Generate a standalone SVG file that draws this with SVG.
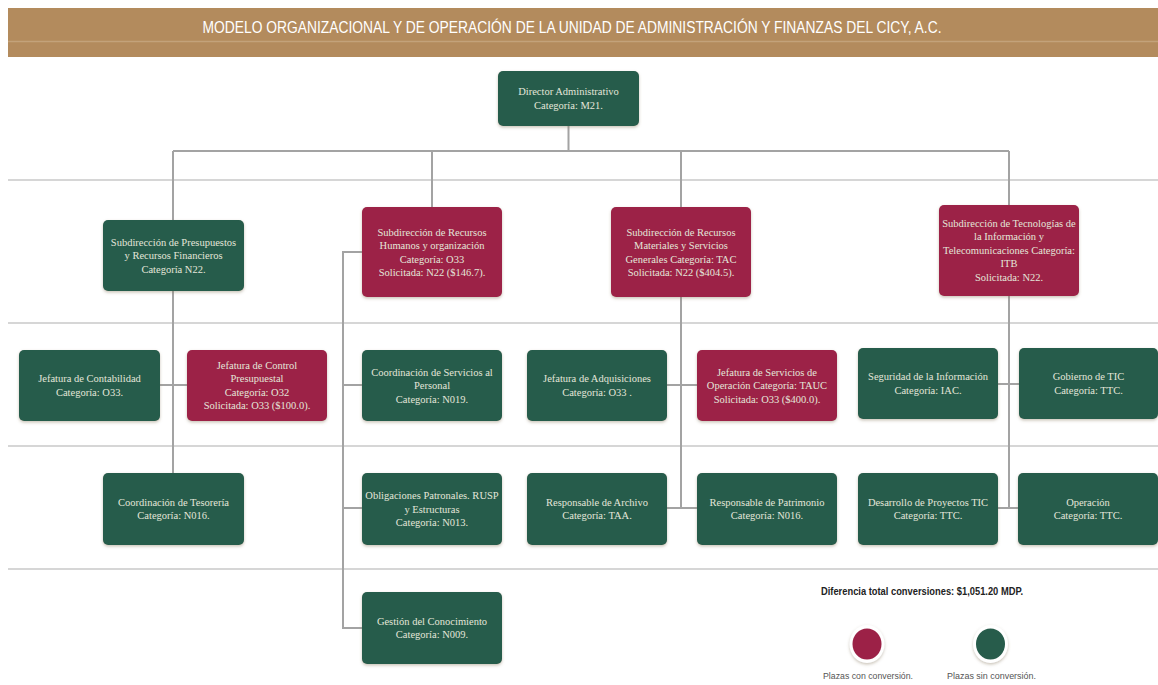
<svg xmlns="http://www.w3.org/2000/svg" width="1158" height="685" viewBox="0 0 1158 685">
<defs>
<filter id="sh" x="-10%" y="-10%" width="120%" height="130%">
<feDropShadow dx="0" dy="1.5" stdDeviation="1.5" flood-color="#8a7a60" flood-opacity="0.45"/>
</filter>
<style>
.g{fill:#275c4b;filter:url(#sh)}
.m{fill:#9c2147;filter:url(#sh)}
.t{font-family:"Liberation Serif","DejaVu Serif",serif;font-size:10.5px;fill:#e4e6da;text-anchor:middle}
.sep{stroke:#c9c9c9;stroke-width:1.5;fill:none}
.con{stroke:#a3a3a3;stroke-width:2;fill:none}
.lg{font-family:"Liberation Sans",Arial,sans-serif;font-size:9px;fill:#555;text-anchor:middle}
</style>
</defs>
<rect width="1158" height="685" fill="#ffffff"/>
<g id="header">
<rect x="8" y="8" width="1150" height="49" fill="#b38b5d"/>
<line x1="8" y1="41.5" x2="1158" y2="41.5" stroke="#c3a27a" stroke-width="1.5"/>
<text x="572" y="32.5" font-family="Liberation Sans,Arial,sans-serif" font-size="16.5" fill="#ffffff" text-anchor="middle" textLength="739" lengthAdjust="spacingAndGlyphs">MODELO ORGANIZACIONAL Y DE OPERACIÓN DE LA UNIDAD DE ADMINISTRACIÓN Y FINANZAS DEL CICY, A.C.</text>
</g>
<g id="separators">
<line class="sep" x1="8" y1="180" x2="1158" y2="180"/>
<line class="sep" x1="8" y1="323" x2="1158" y2="323"/>
<line class="sep" x1="8" y1="446" x2="1158" y2="446"/>
<line class="sep" x1="8" y1="569" x2="1158" y2="569"/>
</g>
<g id="connectors">
<path class="con" d="M568.5 126 V151 M173 151 H1009 M173 151 V220 M432 151 V207 M681 151 V207 M1009 151 V205"/>
<path class="con" d="M173 291 V473 M160 385 H187"/>
<path class="con" d="M362 252 H343 V628 H362 M343 385 H362 M343 508 H362"/>
<path class="con" d="M681 297 V508 M667 385 H697 M667 508 H697"/>
<path class="con" d="M1009 296 V508 M998 384 H1019 M998 508 H1018"/>
</g>
<g id="n-director"><rect class="g" x="498" y="71" width="141" height="55" rx="5"/>
<text class="t" x="568.5" y="95"><tspan x="568.5">Director Administrativo</tspan><tspan x="568.5" dy="13.5">Categoría: M21.</tspan></text></g>
<g id="n-presupuestos"><rect class="g" x="103" y="220" width="141" height="71" rx="5"/>
<text class="t" x="173.5" y="245.5"><tspan x="173.5">Subdirección de Presupuestos</tspan><tspan x="173.5" dy="13.5">y Recursos Financieros</tspan><tspan x="173.5" dy="13.5">Categoría N22.</tspan></text></g>
<g id="n-rh"><rect class="m" x="362" y="207" width="140" height="90" rx="5"/>
<text class="t" x="432" y="235.5"><tspan x="432">Subdirección de Recursos</tspan><tspan x="432" dy="13.5">Humanos y organización</tspan><tspan x="432" dy="13.5">Categoría: O33</tspan><tspan x="432" dy="13.5">Solicitada: N22 ($146.7).</tspan></text></g>
<g id="n-materiales"><rect class="m" x="611" y="207" width="140" height="90" rx="5"/>
<text class="t" x="681" y="235.5"><tspan x="681">Subdirección de Recursos</tspan><tspan x="681" dy="13.5">Materiales y Servicios</tspan><tspan x="681" dy="13.5">Generales Categoría: TAC</tspan><tspan x="681" dy="13.5">Solicitada: N22 ($404.5).</tspan></text></g>
<g id="n-tic"><rect class="m" x="939" y="205" width="140" height="91" rx="5"/>
<text class="t" x="1009" y="226.5"><tspan x="1009">Subdirección de Tecnologías de</tspan><tspan x="1009" dy="13.5">la Información y</tspan><tspan x="1009" dy="13.5">Telecomunicaciones Categoría:</tspan><tspan x="1009" dy="13.5">ITB</tspan><tspan x="1009" dy="13.5">Solicitada: N22.</tspan></text></g>
<g id="n-contabilidad"><rect class="g" x="19" y="350" width="141" height="71" rx="5"/>
<text class="t" x="89.5" y="382"><tspan x="89.5">Jefatura de Contabilidad</tspan><tspan x="89.5" dy="13.5">Categoría: O33.</tspan></text></g>
<g id="n-control"><rect class="m" x="187" y="350" width="140" height="71" rx="5"/>
<text class="t" x="257" y="368.5"><tspan x="257">Jefatura de Control</tspan><tspan x="257" dy="13.5">Presupuestal</tspan><tspan x="257" dy="13.5">Categoría: O32</tspan><tspan x="257" dy="13.5">Solicitada: O33 ($100.0).</tspan></text></g>
<g id="n-servicios-personal"><rect class="g" x="362" y="350" width="140" height="71" rx="5"/>
<text class="t" x="432" y="375.5"><tspan x="432">Coordinación de Servicios al</tspan><tspan x="432" dy="13.5">Personal</tspan><tspan x="432" dy="13.5">Categoría: N019.</tspan></text></g>
<g id="n-adquisiciones"><rect class="g" x="527" y="350" width="140" height="71" rx="5"/>
<text class="t" x="597" y="382"><tspan x="597">Jefatura de Adquisiciones</tspan><tspan x="597" dy="13.5">Categoría: O33 .</tspan></text></g>
<g id="n-servicios-operacion"><rect class="m" x="697" y="350" width="140" height="71" rx="5"/>
<text class="t" x="767" y="375.5"><tspan x="767">Jefatura de Servicios de</tspan><tspan x="767" dy="13.5">Operación Categoría: TAUC</tspan><tspan x="767" dy="13.5">Solicitada: O33 ($400.0).</tspan></text></g>
<g id="n-seguridad"><rect class="g" x="858" y="348" width="140" height="71" rx="5"/>
<text class="t" x="928" y="380"><tspan x="928">Seguridad de la Información</tspan><tspan x="928" dy="13.5">Categoría: IAC.</tspan></text></g>
<g id="n-gobierno"><rect class="g" x="1019" y="348" width="139" height="71" rx="5"/>
<text class="t" x="1088.5" y="380"><tspan x="1088.5">Gobierno de TIC</tspan><tspan x="1088.5" dy="13.5">Categoría: TTC.</tspan></text></g>
<g id="n-tesoreria"><rect class="g" x="103" y="473" width="141" height="72" rx="5"/>
<text class="t" x="173.5" y="505.5"><tspan x="173.5">Coordinación de Tesorería</tspan><tspan x="173.5" dy="13.5">Categoría: N016.</tspan></text></g>
<g id="n-obligaciones"><rect class="g" x="362" y="473" width="140" height="72" rx="5"/>
<text class="t" x="432" y="499"><tspan x="432">Obligaciones Patronales. RUSP</tspan><tspan x="432" dy="13.5">y Estructuras</tspan><tspan x="432" dy="13.5">Categoría: N013.</tspan></text></g>
<g id="n-archivo"><rect class="g" x="527" y="473" width="140" height="72" rx="5"/>
<text class="t" x="597" y="505.5"><tspan x="597">Responsable de Archivo</tspan><tspan x="597" dy="13.5">Categoría: TAA.</tspan></text></g>
<g id="n-patrimonio"><rect class="g" x="697" y="473" width="140" height="72" rx="5"/>
<text class="t" x="767" y="505.5"><tspan x="767">Responsable de Patrimonio</tspan><tspan x="767" dy="13.5">Categoría: N016.</tspan></text></g>
<g id="n-desarrollo"><rect class="g" x="858" y="473" width="140" height="72" rx="5"/>
<text class="t" x="928" y="505.5"><tspan x="928">Desarrollo de Proyectos TIC</tspan><tspan x="928" dy="13.5">Categoría: TTC.</tspan></text></g>
<g id="n-operacion"><rect class="g" x="1018" y="473" width="140" height="72" rx="5"/>
<text class="t" x="1088" y="505.5"><tspan x="1088">Operación</tspan><tspan x="1088" dy="13.5">Categoría: TTC.</tspan></text></g>
<g id="n-gestion"><rect class="g" x="362" y="592" width="140" height="72" rx="5"/>
<text class="t" x="432" y="624.5"><tspan x="432">Gestión del Conocimiento</tspan><tspan x="432" dy="13.5">Categoría: N009.</tspan></text></g>
<g id="legend">
<text x="821" y="595" font-family="Liberation Sans,Arial,sans-serif" font-size="10" font-weight="bold" fill="#222" textLength="202" lengthAdjust="spacingAndGlyphs">Diferencia total conversiones: $1,051.20 MDP.</text>
<ellipse cx="867" cy="644" rx="17.5" ry="19" fill="#ffffff" filter="url(#sh)"/>
<ellipse cx="867" cy="644" rx="14.5" ry="15.5" fill="#9c2147"/>
<ellipse cx="990.5" cy="644" rx="17.5" ry="19" fill="#ffffff" filter="url(#sh)"/>
<ellipse cx="990.5" cy="644" rx="14.5" ry="15.5" fill="#275c4b"/>
<text class="lg" x="868" y="679" textLength="90" lengthAdjust="spacingAndGlyphs">Plazas con conversión.</text>
<text class="lg" x="991.5" y="679" textLength="89" lengthAdjust="spacingAndGlyphs">Plazas sin conversión.</text>
</g>
</svg>
